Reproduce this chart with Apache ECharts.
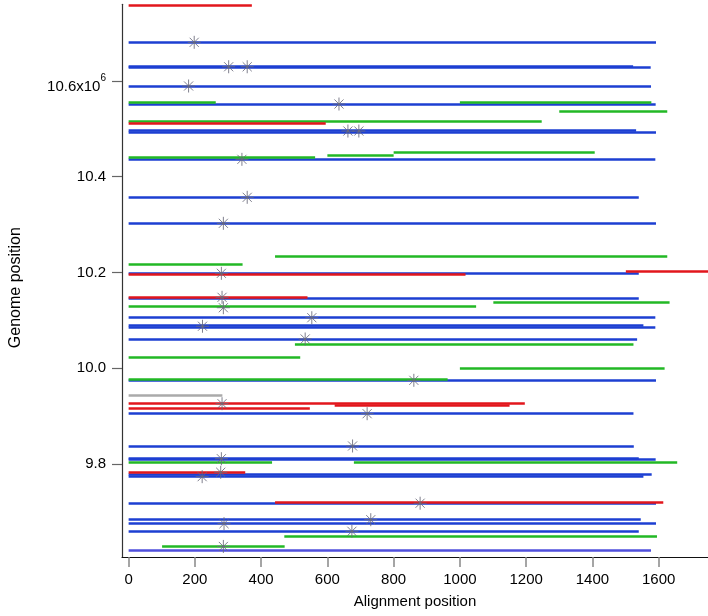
<!DOCTYPE html>
<html>
<head>
<meta charset="utf-8">
<script src="https://cdn.jsdelivr.net/npm/echarts@6/dist/echarts.min.js"></script>
<style>
html,body{margin:0;padding:0;background:#fff;}
#c{width:708px;height:616px;}
</style>
</head>
<body>
<div id="c"></div>
<script>
// Tick values
const xTicks = [0, 200, 400, 600, 800, 1000, 1200, 1400, 1600];
const yTicks = [9.8, 10.0, 10.2, 10.4, 10.6]; // genome position, x10^6

// Segments: [alignment start, alignment end, genome position (x10^6)]
const blueSegs = [
  [0, 1592, 10.6806],
  [0, 1523, 10.6311],
  [0, 1576, 10.6280],
  [0, 1577, 10.5894],
  [0, 1591, 10.5518],
  [0, 1532, 10.4975],
  [0, 1592, 10.4933],
  [0, 1590, 10.4363],
  [0, 1540, 10.3570],
  [0, 1592, 10.3027],
  [0, 1540, 10.1983],
  [0, 1540, 10.1453],
  [0, 1590, 10.1056],
  [0, 1554, 10.0894],
  [0, 1590, 10.0862],
  [0, 1535, 10.0612],
  [0, 1592, 9.9749],
  [0, 1524, 9.9052],
  [0, 1525, 9.8378],
  [0, 1540, 9.8127],
  [0, 1591, 9.8096],
  [0, 1579, 9.7787],
  [0, 1554, 9.7737],
  [0, 1592, 9.7173],
  [0, 1546, 9.6839],
  [0, 1592, 9.6756],
  [0, 1540, 9.6597]
];
const violetSegs = [
  [0, 1577, 9.6200]
];
const greenSegs = [
  [0, 263, 10.5545],
  [1000, 1578, 10.5559],
  [1300, 1626, 10.5365],
  [0, 1247, 10.5157],
  [0, 563, 10.4405],
  [600, 800, 10.4438],
  [800, 1407, 10.4501],
  [442, 1626, 10.2330],
  [0, 344, 10.2163],
  [0, 1049, 10.1286],
  [1101, 1633, 10.1378],
  [502, 1524, 10.0493],
  [0, 518, 10.0221],
  [1000, 1618, 9.9992],
  [0, 963, 9.9777],
  [0, 433, 9.8044],
  [680, 1656, 9.8044],
  [470, 1595, 9.6493],
  [101, 471, 9.6284]
];
const redSegs = [
  [0, 372, 10.7585],
  [0, 595, 10.5106],
  [0, 1017, 10.1958],
  [1501, 1749, 10.2031],
  [0, 540, 10.1482],
  [0, 1196, 9.9261],
  [622, 1150, 9.9234],
  [0, 547, 9.9157],
  [0, 352, 9.7829],
  [442, 1614, 9.7194]
];
const graySegs = [
  [0, 283, 9.9428]
];
// Asterisk markers: [alignment position, genome position (x10^6)]
const markers = [
  [198, 10.6806], [302, 10.6296], [358, 10.6296], [181, 10.5894],
  [635, 10.5518], [662, 10.4954], [695, 10.4954], [342, 10.4363],
  [358, 10.3570], [286, 10.3027], [280, 10.1983], [282, 10.1482],
  [286, 10.1265], [553, 10.1056], [223, 10.0878], [533, 10.0612],
  [861, 9.9749], [282, 9.9261], [720, 9.9052], [676, 9.8378],
  [280, 9.8112], [278, 9.7829], [222, 9.7737], [880, 9.7183],
  [731, 9.6839], [288, 9.6756], [674, 9.6597], [286, 9.6280]
];

const FONT = "'Liberation Sans', Arial, Helvetica, sans-serif";

function segSeries(arr, color) {
  return {
    type: 'lines',
    coordinateSystem: 'cartesian2d',
    polyline: false,
    silent: true,
    clip: true,
    lineStyle: { color: color, width: 2.5, opacity: 1 },
    data: arr.map(s => ({ coords: [[s[0], s[2]], [s[1], s[2]]] }))
  };
}

const chart = echarts.init(document.getElementById('c'), null, { renderer: 'canvas' });
chart.setOption({
  animation: false,
  backgroundColor: '#fff',
  grid: { left: 118.3, right: 0, top: 4.3, bottom: 59, containLabel: false },
  xAxis: {
    type: 'value',
    min: -20,
    max: 1749,
    name: 'Alignment position',
    nameLocation: 'middle',
    nameGap: 37,
    nameTextStyle: { color: '#000', fontSize: 15, fontFamily: FONT },
    axisLine: { show: true, onZero: false, lineStyle: { color: '#111', width: 1.2 } },
    axisTick: { show: true, inside: false, length: 10, customValues: xTicks, lineStyle: { color: '#888', width: 1.5 } },
    axisLabel: {
      customValues: xTicks, margin: 15, color: '#000', fontSize: 15, fontFamily: FONT,
      formatter: function (v) { return String(v); }
    },
    splitLine: { show: false }
  },
  yAxis: {
    type: 'value',
    min: 9.606,
    max: 10.76,
    name: 'Genome position',
    nameLocation: 'middle',
    nameGap: 98,
    nameTextStyle: { color: '#000', fontSize: 16, fontFamily: FONT, padding: [0, 14, 0, 0] },
    axisLine: { show: true, onZero: false, lineStyle: { color: '#333', width: 1.2 } },
    axisTick: { show: true, inside: false, length: 10, customValues: yTicks, lineStyle: { color: '#666', width: 1.2 } },
    axisLabel: {
      customValues: yTicks,
      margin: 16,
      color: '#000',
      fontSize: 15,
      fontFamily: FONT,
      formatter: function (v) {
        const s = v.toFixed(1);
        return v > 10.55 ? '{m|' + s + 'x10}{s|6}' : s;
      },
      rich: {
        m: { fontSize: 15, fontFamily: FONT, color: '#000', lineHeight: 15, padding: [11, 0, 0, 0] },
        s: { fontSize: 10, fontFamily: FONT, color: '#000', lineHeight: 10, padding: [0, 0, 6, 0] }
      }
    },
    splitLine: { show: false }
  },
  series: [
    segSeries(blueSegs, '#1d3fd2'),
    segSeries(violetSegs, '#4f4fdc'),
    segSeries(greenSegs, '#22b825'),
    segSeries(redSegs, '#e2161c'),
    segSeries(graySegs, '#aaaaaa'),
    {
      type: 'scatter',
      silent: true,
      symbol: 'path://M10 0L10 20M0 10L20 10M3 3L17 17M3 17L17 3',
      symbolSize: 13,
      symbolKeepAspect: true,
      itemStyle: { color: 'rgba(0,0,0,0)', borderColor: '#6a6a7a', borderWidth: 1, opacity: 0.85 },
      data: markers
    }
  ]
});
</script>
</body>
</html>
